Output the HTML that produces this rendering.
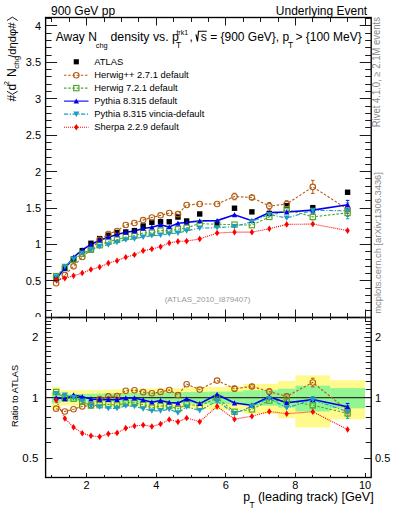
<!DOCTYPE html>
<html><head><meta charset="utf-8"><style>
html,body{margin:0;padding:0;background:#fff;width:393px;height:512px;overflow:hidden;position:relative}
</style></head><body>
<svg width="393" height="512" viewBox="0 0 393 512" style="position:absolute;left:0;top:0"><rect width="393" height="512" fill="#fff"/><rect x="51.80" y="386.93" width="8.70" height="22.83" fill="#fffa8c"/><rect x="60.50" y="390.24" width="8.70" height="15.40" fill="#fffa8c"/><rect x="69.20" y="390.24" width="8.70" height="15.40" fill="#fffa8c"/><rect x="77.90" y="390.08" width="8.70" height="15.76" fill="#fffa8c"/><rect x="86.60" y="390.08" width="8.70" height="15.76" fill="#fffa8c"/><rect x="95.30" y="389.92" width="8.70" height="16.11" fill="#fffa8c"/><rect x="104.00" y="389.68" width="8.70" height="16.64" fill="#fffa8c"/><rect x="112.70" y="389.28" width="8.70" height="17.52" fill="#fffa8c"/><rect x="121.40" y="389.28" width="8.70" height="17.52" fill="#fffa8c"/><rect x="130.10" y="388.88" width="8.70" height="18.40" fill="#fffa8c"/><rect x="138.80" y="388.49" width="8.70" height="19.28" fill="#fffa8c"/><rect x="147.50" y="388.49" width="8.70" height="19.28" fill="#fffa8c"/><rect x="156.20" y="388.10" width="8.70" height="20.17" fill="#fffa8c"/><rect x="164.90" y="388.10" width="8.70" height="20.17" fill="#fffa8c"/><rect x="173.60" y="388.10" width="8.70" height="20.17" fill="#fffa8c"/><rect x="182.30" y="387.71" width="8.70" height="21.05" fill="#fffa8c"/><rect x="191.00" y="387.32" width="17.40" height="21.94" fill="#fffa8c"/><rect x="208.40" y="386.93" width="17.40" height="22.83" fill="#fffa8c"/><rect x="225.80" y="386.55" width="17.40" height="23.71" fill="#fffa8c"/><rect x="243.20" y="383.89" width="17.40" height="29.97" fill="#fffa8c"/><rect x="260.60" y="383.89" width="17.40" height="29.97" fill="#fffa8c"/><rect x="278.00" y="380.96" width="17.40" height="37.22" fill="#fffa8c"/><rect x="295.40" y="375.37" width="34.80" height="52.13" fill="#fffa8c"/><rect x="330.20" y="380.24" width="34.80" height="39.05" fill="#fffa8c"/><rect x="51.80" y="392.10" width="8.70" height="11.36" fill="#91f591"/><rect x="60.50" y="394.18" width="8.70" height="6.99" fill="#91f591"/><rect x="69.20" y="394.18" width="8.70" height="6.99" fill="#91f591"/><rect x="77.90" y="394.01" width="8.70" height="7.34" fill="#91f591"/><rect x="86.60" y="393.76" width="8.70" height="7.86" fill="#91f591"/><rect x="95.30" y="393.59" width="8.70" height="8.21" fill="#91f591"/><rect x="104.00" y="393.34" width="8.70" height="8.74" fill="#91f591"/><rect x="112.70" y="393.17" width="8.70" height="9.09" fill="#91f591"/><rect x="121.40" y="393.01" width="8.70" height="9.44" fill="#91f591"/><rect x="130.10" y="392.84" width="8.70" height="9.79" fill="#91f591"/><rect x="138.80" y="392.68" width="8.70" height="10.14" fill="#91f591"/><rect x="147.50" y="392.51" width="8.70" height="10.49" fill="#91f591"/><rect x="156.20" y="392.35" width="8.70" height="10.84" fill="#91f591"/><rect x="164.90" y="392.35" width="8.70" height="10.84" fill="#91f591"/><rect x="173.60" y="392.18" width="8.70" height="11.19" fill="#91f591"/><rect x="182.30" y="392.02" width="8.70" height="11.54" fill="#91f591"/><rect x="191.00" y="391.86" width="17.40" height="11.89" fill="#91f591"/><rect x="208.40" y="391.69" width="17.40" height="12.24" fill="#91f591"/><rect x="225.80" y="391.53" width="17.40" height="12.59" fill="#91f591"/><rect x="243.20" y="390.24" width="17.40" height="15.40" fill="#91f591"/><rect x="260.60" y="390.24" width="17.40" height="15.40" fill="#91f591"/><rect x="278.00" y="388.65" width="17.40" height="18.93" fill="#91f591"/><rect x="295.40" y="385.63" width="34.80" height="25.85" fill="#91f591"/><rect x="330.20" y="388.10" width="34.80" height="20.17" fill="#91f591"/><line x1="45.6" y1="397.60" x2="371.2" y2="397.60" stroke="#333" stroke-width="1.2"/><g><polyline points="56.15,283.27 64.85,275.04 73.55,266.30 82.25,257.04 90.95,249.54 99.65,239.92 108.35,234.02 117.05,231.03 125.75,224.99 134.45,223.02 143.15,220.10 151.85,217.48 160.55,215.37 169.25,213.04 177.95,214.13 186.65,205.02 199.70,204.00 217.10,204.00 234.50,196.50 251.90,197.52 269.30,206.12 286.70,204.00 312.80,186.88 347.60,209.18" fill="none" stroke="#b35c12" stroke-width="1.1" stroke-dasharray="2.5,1.7"/><polyline points="56.15,276.13 64.85,268.12 73.55,259.74 82.25,253.69 90.95,249.69 99.65,245.17 108.35,241.31 117.05,239.70 125.75,236.94 134.45,235.62 143.15,233.00 151.85,232.78 160.55,230.60 169.25,230.60 177.95,229.29 186.65,227.83 199.70,223.53 217.10,224.33 234.50,224.62 251.90,225.13 269.30,216.90 286.70,209.61 312.80,216.90 347.60,212.82" fill="none" stroke="#4fa82b" stroke-width="1.1" stroke-dasharray="2.5,1.7"/><polyline points="56.15,278.68 64.85,268.48 73.55,257.26 82.25,249.98 90.95,244.44 99.65,240.21 108.35,237.15 117.05,234.46 125.75,232.27 134.45,231.03 143.15,228.41 151.85,227.17 160.55,224.91 169.25,226.95 177.95,223.24 186.65,222.44 199.70,220.91 217.10,220.61 234.50,214.79 251.90,220.69 269.30,212.60 286.70,212.02 312.80,210.12 347.60,204.73" fill="none" stroke="#0000ee" stroke-width="1.6"/><polyline points="56.15,276.79 64.85,266.30 73.55,259.01 82.25,253.18 90.95,249.98 99.65,246.48 108.35,244.80 117.05,242.25 125.75,239.78 134.45,238.83 143.15,237.01 151.85,235.70 160.55,235.19 169.25,233.73 177.95,233.07 186.65,230.74 199.70,228.19 217.10,227.68 234.50,226.52 251.90,221.71 269.30,214.42 286.70,218.06 312.80,210.34 347.60,210.78" fill="none" stroke="#1f9cc4" stroke-width="1.1" stroke-dasharray="4.2,1.6,1.2,1.5"/><polyline points="56.15,279.85 64.85,278.32 73.55,275.77 82.25,273.00 90.95,269.50 99.65,267.03 108.35,263.09 117.05,260.69 125.75,257.19 134.45,254.71 143.15,250.63 151.85,249.03 160.55,246.70 169.25,242.98 177.95,241.38 186.65,241.09 199.70,238.90 217.10,233.00 234.50,232.13 251.90,232.13 269.30,228.78 286.70,224.40 312.80,224.04 347.60,230.60" fill="none" stroke="#ff0000" stroke-width="1.1" stroke-dasharray="1,1"/><path d="M234.50,193.22V193.50M234.50,199.50V199.78M232.70,193.22h3.6M232.70,199.78h3.6" stroke="#b35c12" stroke-width="1" fill="none"/><path d="M251.90,195.33V194.52M251.90,200.52V199.70M250.10,195.33h3.6M250.10,199.70h3.6" stroke="#b35c12" stroke-width="1" fill="none"/><path d="M269.30,202.47V203.12M269.30,209.12V209.76M267.50,202.47h3.6M267.50,209.76h3.6" stroke="#b35c12" stroke-width="1" fill="none"/><path d="M286.70,200.72V201.00M286.70,207.00V207.28M284.90,200.72h3.6M284.90,207.28h3.6" stroke="#b35c12" stroke-width="1" fill="none"/><path d="M312.80,180.32V183.88M312.80,189.88V193.44M311.00,180.32h3.6M311.00,193.44h3.6" stroke="#b35c12" stroke-width="1" fill="none"/><path d="M347.60,204.80V206.18M347.60,212.18V213.55M345.80,204.80h3.6M345.80,213.55h3.6" stroke="#b35c12" stroke-width="1" fill="none"/><path d="M312.80,213.98V213.90M312.80,219.90V219.81M311.00,213.98h3.6M311.00,219.81h3.6" stroke="#4fa82b" stroke-width="1" fill="none"/><path d="M347.60,209.18V209.82M347.60,215.82V216.46M345.80,209.18h3.6M345.80,216.46h3.6" stroke="#4fa82b" stroke-width="1" fill="none"/><path d="M312.80,207.21V207.12M312.80,213.12V213.04M311.00,207.21h3.6M311.00,213.04h3.6" stroke="#0000ee" stroke-width="1" fill="none"/><path d="M347.60,200.36V201.73M347.60,207.73V209.10M345.80,200.36h3.6M345.80,209.10h3.6" stroke="#0000ee" stroke-width="1" fill="none"/><path d="M312.80,206.70V207.34M312.80,213.34V213.98M311.00,206.70h3.6M311.00,213.98h3.6" stroke="#1f9cc4" stroke-width="1" fill="none"/><path d="M347.60,202.76V207.78M347.60,213.78V218.79M345.80,202.76h3.6M345.80,218.79h3.6" stroke="#1f9cc4" stroke-width="1" fill="none"/><rect x="53.45" y="275.98" width="5.40" height="5.40" fill="#000"/><rect x="62.15" y="265.06" width="5.40" height="5.40" fill="#000"/><rect x="70.85" y="256.31" width="5.40" height="5.40" fill="#000"/><rect x="79.55" y="247.93" width="5.40" height="5.40" fill="#000"/><rect x="88.25" y="240.57" width="5.40" height="5.40" fill="#000"/><rect x="96.95" y="235.91" width="5.40" height="5.40" fill="#000"/><rect x="105.65" y="232.49" width="5.40" height="5.40" fill="#000"/><rect x="114.35" y="229.79" width="5.40" height="5.40" fill="#000"/><rect x="123.05" y="229.28" width="5.40" height="5.40" fill="#000"/><rect x="131.75" y="227.90" width="5.40" height="5.40" fill="#000"/><rect x="140.45" y="223.31" width="5.40" height="5.40" fill="#000"/><rect x="149.15" y="219.59" width="5.40" height="5.40" fill="#000"/><rect x="157.85" y="219.08" width="5.40" height="5.40" fill="#000"/><rect x="166.55" y="219.08" width="5.40" height="5.40" fill="#000"/><rect x="175.25" y="214.34" width="5.40" height="5.40" fill="#000"/><rect x="183.95" y="218.28" width="5.40" height="5.40" fill="#000"/><rect x="197.00" y="211.28" width="5.40" height="5.40" fill="#000"/><rect x="214.40" y="221.34" width="5.40" height="5.40" fill="#000"/><rect x="231.80" y="205.53" width="5.40" height="5.40" fill="#000"/><rect x="249.20" y="209.17" width="5.40" height="5.40" fill="#000"/><rect x="266.60" y="210.77" width="5.40" height="5.40" fill="#000"/><rect x="284.00" y="202.91" width="5.40" height="5.40" fill="#000"/><rect x="310.10" y="204.95" width="5.40" height="5.40" fill="#000"/><rect x="344.90" y="189.57" width="5.40" height="5.40" fill="#000"/><circle cx="56.15" cy="283.27" r="2.75" fill="none" stroke="#b35c12" stroke-width="1.15"/><circle cx="64.85" cy="275.04" r="2.75" fill="none" stroke="#b35c12" stroke-width="1.15"/><circle cx="73.55" cy="266.30" r="2.75" fill="none" stroke="#b35c12" stroke-width="1.15"/><circle cx="82.25" cy="257.04" r="2.75" fill="none" stroke="#b35c12" stroke-width="1.15"/><circle cx="90.95" cy="249.54" r="2.75" fill="none" stroke="#b35c12" stroke-width="1.15"/><circle cx="99.65" cy="239.92" r="2.75" fill="none" stroke="#b35c12" stroke-width="1.15"/><circle cx="108.35" cy="234.02" r="2.75" fill="none" stroke="#b35c12" stroke-width="1.15"/><circle cx="117.05" cy="231.03" r="2.75" fill="none" stroke="#b35c12" stroke-width="1.15"/><circle cx="125.75" cy="224.99" r="2.75" fill="none" stroke="#b35c12" stroke-width="1.15"/><circle cx="134.45" cy="223.02" r="2.75" fill="none" stroke="#b35c12" stroke-width="1.15"/><circle cx="143.15" cy="220.10" r="2.75" fill="none" stroke="#b35c12" stroke-width="1.15"/><circle cx="151.85" cy="217.48" r="2.75" fill="none" stroke="#b35c12" stroke-width="1.15"/><circle cx="160.55" cy="215.37" r="2.75" fill="none" stroke="#b35c12" stroke-width="1.15"/><circle cx="169.25" cy="213.04" r="2.75" fill="none" stroke="#b35c12" stroke-width="1.15"/><circle cx="177.95" cy="214.13" r="2.75" fill="none" stroke="#b35c12" stroke-width="1.15"/><circle cx="186.65" cy="205.02" r="2.75" fill="none" stroke="#b35c12" stroke-width="1.15"/><circle cx="199.70" cy="204.00" r="2.75" fill="none" stroke="#b35c12" stroke-width="1.15"/><circle cx="217.10" cy="204.00" r="2.75" fill="none" stroke="#b35c12" stroke-width="1.15"/><circle cx="234.50" cy="196.50" r="2.75" fill="none" stroke="#b35c12" stroke-width="1.15"/><circle cx="251.90" cy="197.52" r="2.75" fill="none" stroke="#b35c12" stroke-width="1.15"/><circle cx="269.30" cy="206.12" r="2.75" fill="none" stroke="#b35c12" stroke-width="1.15"/><circle cx="286.70" cy="204.00" r="2.75" fill="none" stroke="#b35c12" stroke-width="1.15"/><circle cx="312.80" cy="186.88" r="2.75" fill="none" stroke="#b35c12" stroke-width="1.15"/><circle cx="347.60" cy="209.18" r="2.75" fill="none" stroke="#b35c12" stroke-width="1.15"/><rect x="53.50" y="273.48" width="5.30" height="5.30" fill="none" stroke="#4fa82b" stroke-width="1.15"/><rect x="62.20" y="265.47" width="5.30" height="5.30" fill="none" stroke="#4fa82b" stroke-width="1.15"/><rect x="70.90" y="257.09" width="5.30" height="5.30" fill="none" stroke="#4fa82b" stroke-width="1.15"/><rect x="79.60" y="251.04" width="5.30" height="5.30" fill="none" stroke="#4fa82b" stroke-width="1.15"/><rect x="88.30" y="247.04" width="5.30" height="5.30" fill="none" stroke="#4fa82b" stroke-width="1.15"/><rect x="97.00" y="242.52" width="5.30" height="5.30" fill="none" stroke="#4fa82b" stroke-width="1.15"/><rect x="105.70" y="238.66" width="5.30" height="5.30" fill="none" stroke="#4fa82b" stroke-width="1.15"/><rect x="114.40" y="237.05" width="5.30" height="5.30" fill="none" stroke="#4fa82b" stroke-width="1.15"/><rect x="123.10" y="234.29" width="5.30" height="5.30" fill="none" stroke="#4fa82b" stroke-width="1.15"/><rect x="131.80" y="232.97" width="5.30" height="5.30" fill="none" stroke="#4fa82b" stroke-width="1.15"/><rect x="140.50" y="230.35" width="5.30" height="5.30" fill="none" stroke="#4fa82b" stroke-width="1.15"/><rect x="149.20" y="230.13" width="5.30" height="5.30" fill="none" stroke="#4fa82b" stroke-width="1.15"/><rect x="157.90" y="227.95" width="5.30" height="5.30" fill="none" stroke="#4fa82b" stroke-width="1.15"/><rect x="166.60" y="227.95" width="5.30" height="5.30" fill="none" stroke="#4fa82b" stroke-width="1.15"/><rect x="175.30" y="226.64" width="5.30" height="5.30" fill="none" stroke="#4fa82b" stroke-width="1.15"/><rect x="184.00" y="225.18" width="5.30" height="5.30" fill="none" stroke="#4fa82b" stroke-width="1.15"/><rect x="197.05" y="220.88" width="5.30" height="5.30" fill="none" stroke="#4fa82b" stroke-width="1.15"/><rect x="214.45" y="221.68" width="5.30" height="5.30" fill="none" stroke="#4fa82b" stroke-width="1.15"/><rect x="231.85" y="221.97" width="5.30" height="5.30" fill="none" stroke="#4fa82b" stroke-width="1.15"/><rect x="249.25" y="222.48" width="5.30" height="5.30" fill="none" stroke="#4fa82b" stroke-width="1.15"/><rect x="266.65" y="214.25" width="5.30" height="5.30" fill="none" stroke="#4fa82b" stroke-width="1.15"/><rect x="284.05" y="206.96" width="5.30" height="5.30" fill="none" stroke="#4fa82b" stroke-width="1.15"/><rect x="310.15" y="214.25" width="5.30" height="5.30" fill="none" stroke="#4fa82b" stroke-width="1.15"/><rect x="344.95" y="210.17" width="5.30" height="5.30" fill="none" stroke="#4fa82b" stroke-width="1.15"/><polygon points="53.45,281.08 58.85,281.08 56.15,275.98" fill="#0000ee"/><polygon points="62.15,270.88 67.55,270.88 64.85,265.78" fill="#0000ee"/><polygon points="70.85,259.66 76.25,259.66 73.55,254.56" fill="#0000ee"/><polygon points="79.55,252.38 84.95,252.38 82.25,247.28" fill="#0000ee"/><polygon points="88.25,246.84 93.65,246.84 90.95,241.74" fill="#0000ee"/><polygon points="96.95,242.61 102.35,242.61 99.65,237.51" fill="#0000ee"/><polygon points="105.65,239.55 111.05,239.55 108.35,234.45" fill="#0000ee"/><polygon points="114.35,236.86 119.75,236.86 117.05,231.76" fill="#0000ee"/><polygon points="123.05,234.67 128.45,234.67 125.75,229.57" fill="#0000ee"/><polygon points="131.75,233.43 137.15,233.43 134.45,228.33" fill="#0000ee"/><polygon points="140.45,230.81 145.85,230.81 143.15,225.71" fill="#0000ee"/><polygon points="149.15,229.57 154.55,229.57 151.85,224.47" fill="#0000ee"/><polygon points="157.85,227.31 163.25,227.31 160.55,222.21" fill="#0000ee"/><polygon points="166.55,229.35 171.95,229.35 169.25,224.25" fill="#0000ee"/><polygon points="175.25,225.64 180.65,225.64 177.95,220.54" fill="#0000ee"/><polygon points="183.95,224.84 189.35,224.84 186.65,219.74" fill="#0000ee"/><polygon points="197.00,223.31 202.40,223.31 199.70,218.21" fill="#0000ee"/><polygon points="214.40,223.01 219.80,223.01 217.10,217.91" fill="#0000ee"/><polygon points="231.80,217.19 237.20,217.19 234.50,212.09" fill="#0000ee"/><polygon points="249.20,223.09 254.60,223.09 251.90,217.99" fill="#0000ee"/><polygon points="266.60,215.00 272.00,215.00 269.30,209.90" fill="#0000ee"/><polygon points="284.00,214.42 289.40,214.42 286.70,209.32" fill="#0000ee"/><polygon points="310.10,212.52 315.50,212.52 312.80,207.42" fill="#0000ee"/><polygon points="344.90,207.13 350.30,207.13 347.60,202.03" fill="#0000ee"/><polygon points="53.05,274.29 59.25,274.29 56.15,279.69" fill="#1f9cc4"/><polygon points="61.75,263.80 67.95,263.80 64.85,269.20" fill="#1f9cc4"/><polygon points="70.45,256.51 76.65,256.51 73.55,261.91" fill="#1f9cc4"/><polygon points="79.15,250.68 85.35,250.68 82.25,256.08" fill="#1f9cc4"/><polygon points="87.85,247.48 94.05,247.48 90.95,252.88" fill="#1f9cc4"/><polygon points="96.55,243.98 102.75,243.98 99.65,249.38" fill="#1f9cc4"/><polygon points="105.25,242.30 111.45,242.30 108.35,247.70" fill="#1f9cc4"/><polygon points="113.95,239.75 120.15,239.75 117.05,245.15" fill="#1f9cc4"/><polygon points="122.65,237.28 128.85,237.28 125.75,242.68" fill="#1f9cc4"/><polygon points="131.35,236.33 137.55,236.33 134.45,241.73" fill="#1f9cc4"/><polygon points="140.05,234.51 146.25,234.51 143.15,239.91" fill="#1f9cc4"/><polygon points="148.75,233.20 154.95,233.20 151.85,238.60" fill="#1f9cc4"/><polygon points="157.45,232.69 163.65,232.69 160.55,238.09" fill="#1f9cc4"/><polygon points="166.15,231.23 172.35,231.23 169.25,236.63" fill="#1f9cc4"/><polygon points="174.85,230.57 181.05,230.57 177.95,235.97" fill="#1f9cc4"/><polygon points="183.55,228.24 189.75,228.24 186.65,233.64" fill="#1f9cc4"/><polygon points="196.60,225.69 202.80,225.69 199.70,231.09" fill="#1f9cc4"/><polygon points="214.00,225.18 220.20,225.18 217.10,230.58" fill="#1f9cc4"/><polygon points="231.40,224.02 237.60,224.02 234.50,229.42" fill="#1f9cc4"/><polygon points="248.80,219.21 255.00,219.21 251.90,224.61" fill="#1f9cc4"/><polygon points="266.20,211.92 272.40,211.92 269.30,217.32" fill="#1f9cc4"/><polygon points="283.60,215.56 289.80,215.56 286.70,220.96" fill="#1f9cc4"/><polygon points="309.70,207.84 315.90,207.84 312.80,213.24" fill="#1f9cc4"/><polygon points="344.50,208.28 350.70,208.28 347.60,213.68" fill="#1f9cc4"/><polygon points="56.15,276.55 58.35,279.85 56.15,283.15 53.95,279.85" fill="#ff0000"/><polygon points="64.85,275.02 67.05,278.32 64.85,281.62 62.65,278.32" fill="#ff0000"/><polygon points="73.55,272.47 75.75,275.77 73.55,279.07 71.35,275.77" fill="#ff0000"/><polygon points="82.25,269.70 84.45,273.00 82.25,276.30 80.05,273.00" fill="#ff0000"/><polygon points="90.95,266.20 93.15,269.50 90.95,272.80 88.75,269.50" fill="#ff0000"/><polygon points="99.65,263.73 101.85,267.03 99.65,270.33 97.45,267.03" fill="#ff0000"/><polygon points="108.35,259.79 110.55,263.09 108.35,266.39 106.15,263.09" fill="#ff0000"/><polygon points="117.05,257.39 119.25,260.69 117.05,263.99 114.85,260.69" fill="#ff0000"/><polygon points="125.75,253.89 127.95,257.19 125.75,260.49 123.55,257.19" fill="#ff0000"/><polygon points="134.45,251.41 136.65,254.71 134.45,258.01 132.25,254.71" fill="#ff0000"/><polygon points="143.15,247.33 145.35,250.63 143.15,253.93 140.95,250.63" fill="#ff0000"/><polygon points="151.85,245.73 154.05,249.03 151.85,252.33 149.65,249.03" fill="#ff0000"/><polygon points="160.55,243.40 162.75,246.70 160.55,250.00 158.35,246.70" fill="#ff0000"/><polygon points="169.25,239.68 171.45,242.98 169.25,246.28 167.05,242.98" fill="#ff0000"/><polygon points="177.95,238.08 180.15,241.38 177.95,244.68 175.75,241.38" fill="#ff0000"/><polygon points="186.65,237.79 188.85,241.09 186.65,244.39 184.45,241.09" fill="#ff0000"/><polygon points="199.70,235.60 201.90,238.90 199.70,242.20 197.50,238.90" fill="#ff0000"/><polygon points="217.10,229.70 219.30,233.00 217.10,236.30 214.90,233.00" fill="#ff0000"/><polygon points="234.50,228.83 236.70,232.13 234.50,235.43 232.30,232.13" fill="#ff0000"/><polygon points="251.90,228.83 254.10,232.13 251.90,235.43 249.70,232.13" fill="#ff0000"/><polygon points="269.30,225.48 271.50,228.78 269.30,232.08 267.10,228.78" fill="#ff0000"/><polygon points="286.70,221.10 288.90,224.40 286.70,227.70 284.50,224.40" fill="#ff0000"/><polygon points="312.80,220.74 315.00,224.04 312.80,227.34 310.60,224.04" fill="#ff0000"/><polygon points="347.60,227.30 349.80,230.60 347.60,233.90 345.40,230.60" fill="#ff0000"/></g><polyline points="56.15,408.65 64.85,411.49 73.55,409.26 82.25,406.43 90.95,405.32 99.65,399.07 108.35,396.37 117.05,396.11 125.75,390.72 134.45,390.29 143.15,392.13 151.85,393.29 160.55,391.93 169.25,389.95 177.95,395.10 186.65,384.22 199.70,389.55 217.10,380.61 234.50,388.68 251.90,386.46 269.30,391.62 286.70,396.36 312.80,382.46 347.60,410.28" fill="none" stroke="#b35c12" stroke-width="1.1" stroke-dasharray="2.5,1.7"/><polyline points="56.15,392.02 64.85,398.24 73.55,398.70 82.25,401.70 90.95,405.51 99.65,405.20 108.35,404.36 117.05,405.36 125.75,402.82 134.45,402.81 143.15,404.56 151.85,407.81 160.55,406.05 169.25,406.05 177.95,408.97 186.65,404.04 199.70,406.06 217.10,397.87 234.50,411.82 251.90,409.33 269.30,400.53 286.70,400.79 312.80,405.30 347.60,413.27" fill="none" stroke="#4fa82b" stroke-width="1.1" stroke-dasharray="2.5,1.7"/><polyline points="56.15,397.60 64.85,398.89 73.55,395.02 82.25,396.75 90.95,398.99 99.65,399.40 108.35,399.72 117.05,399.65 125.75,397.90 134.45,398.04 143.15,399.93 151.85,402.20 160.55,400.51 169.25,402.46 177.95,403.17 186.65,398.93 199.70,403.65 217.10,394.45 234.50,403.01 251.90,405.22 269.30,396.87 286.70,402.76 312.80,399.59 347.60,406.76" fill="none" stroke="#0000ee" stroke-width="1.6"/><polyline points="56.15,393.42 64.85,395.07 73.55,397.60 82.25,401.00 90.95,405.89 99.65,406.80 108.35,408.47 117.05,408.28 125.75,405.96 134.45,406.31 143.15,408.81 151.85,410.88 160.55,410.80 169.25,409.27 177.95,412.81 186.65,406.93 199.70,410.51 217.10,401.08 234.50,413.62 251.90,406.15 269.30,398.40 286.70,407.92 312.80,399.77 347.60,411.58" fill="none" stroke="#1f9cc4" stroke-width="1.1" stroke-dasharray="4.2,1.6,1.2,1.5"/><polyline points="56.15,400.28 64.85,418.54 73.55,427.19 82.25,433.28 90.95,435.79 99.65,436.71 108.35,433.85 117.05,432.88 125.75,428.17 134.45,426.05 143.15,425.04 151.85,426.45 160.55,423.99 169.25,419.51 177.95,421.87 186.65,418.04 199.70,421.69 217.10,406.42 234.50,419.19 251.90,416.22 269.30,411.52 286.70,413.69 312.80,411.74 347.60,429.55" fill="none" stroke="#ff0000" stroke-width="1.1" stroke-dasharray="1,1"/><path d="M234.50,386.35V385.68M234.50,391.68V391.09M232.70,386.35h3.6M232.70,391.09h3.6" stroke="#b35c12" stroke-width="1" fill="none"/><path d="M251.90,384.88V383.46M251.90,389.46V388.07M250.10,384.88h3.6M250.10,388.07h3.6" stroke="#b35c12" stroke-width="1" fill="none"/><path d="M269.30,388.81V388.62M269.30,394.62V394.53M267.50,388.81h3.6M267.50,394.53h3.6" stroke="#b35c12" stroke-width="1" fill="none"/><path d="M286.70,393.87V393.36M286.70,399.36V398.92M284.90,393.87h3.6M284.90,398.92h3.6" stroke="#b35c12" stroke-width="1" fill="none"/><path d="M312.80,378.18V379.46M312.80,385.46V386.96M311.00,378.18h3.6M311.00,386.96h3.6" stroke="#b35c12" stroke-width="1" fill="none"/><path d="M347.60,406.82V407.28M347.60,413.28V413.88M345.80,406.82h3.6M345.80,413.88h3.6" stroke="#b35c12" stroke-width="1" fill="none"/><path d="M312.80,402.80V402.30M312.80,408.30V407.87M311.00,402.80h3.6M311.00,407.87h3.6" stroke="#4fa82b" stroke-width="1" fill="none"/><path d="M347.60,410.28V410.27M347.60,416.27V416.37M345.80,410.28h3.6M345.80,416.37h3.6" stroke="#4fa82b" stroke-width="1" fill="none"/><path d="M312.80,397.25V396.59M312.80,402.59V402.00M311.00,397.25h3.6M311.00,402.00h3.6" stroke="#0000ee" stroke-width="1" fill="none"/><path d="M347.60,403.44V403.76M347.60,409.76V410.22M345.80,403.44h3.6M345.80,410.22h3.6" stroke="#0000ee" stroke-width="1" fill="none"/><path d="M312.80,396.85V396.77M312.80,402.77V402.80M311.00,396.85h3.6M311.00,402.80h3.6" stroke="#1f9cc4" stroke-width="1" fill="none"/><path d="M347.60,405.25V408.58M347.60,414.58V418.41M345.80,405.25h3.6M345.80,418.41h3.6" stroke="#1f9cc4" stroke-width="1" fill="none"/><circle cx="56.15" cy="408.65" r="2.75" fill="none" stroke="#b35c12" stroke-width="1.15"/><circle cx="64.85" cy="411.49" r="2.75" fill="none" stroke="#b35c12" stroke-width="1.15"/><circle cx="73.55" cy="409.26" r="2.75" fill="none" stroke="#b35c12" stroke-width="1.15"/><circle cx="82.25" cy="406.43" r="2.75" fill="none" stroke="#b35c12" stroke-width="1.15"/><circle cx="90.95" cy="405.32" r="2.75" fill="none" stroke="#b35c12" stroke-width="1.15"/><circle cx="99.65" cy="399.07" r="2.75" fill="none" stroke="#b35c12" stroke-width="1.15"/><circle cx="108.35" cy="396.37" r="2.75" fill="none" stroke="#b35c12" stroke-width="1.15"/><circle cx="117.05" cy="396.11" r="2.75" fill="none" stroke="#b35c12" stroke-width="1.15"/><circle cx="125.75" cy="390.72" r="2.75" fill="none" stroke="#b35c12" stroke-width="1.15"/><circle cx="134.45" cy="390.29" r="2.75" fill="none" stroke="#b35c12" stroke-width="1.15"/><circle cx="143.15" cy="392.13" r="2.75" fill="none" stroke="#b35c12" stroke-width="1.15"/><circle cx="151.85" cy="393.29" r="2.75" fill="none" stroke="#b35c12" stroke-width="1.15"/><circle cx="160.55" cy="391.93" r="2.75" fill="none" stroke="#b35c12" stroke-width="1.15"/><circle cx="169.25" cy="389.95" r="2.75" fill="none" stroke="#b35c12" stroke-width="1.15"/><circle cx="177.95" cy="395.10" r="2.75" fill="none" stroke="#b35c12" stroke-width="1.15"/><circle cx="186.65" cy="384.22" r="2.75" fill="none" stroke="#b35c12" stroke-width="1.15"/><circle cx="199.70" cy="389.55" r="2.75" fill="none" stroke="#b35c12" stroke-width="1.15"/><circle cx="217.10" cy="380.61" r="2.75" fill="none" stroke="#b35c12" stroke-width="1.15"/><circle cx="234.50" cy="388.68" r="2.75" fill="none" stroke="#b35c12" stroke-width="1.15"/><circle cx="251.90" cy="386.46" r="2.75" fill="none" stroke="#b35c12" stroke-width="1.15"/><circle cx="269.30" cy="391.62" r="2.75" fill="none" stroke="#b35c12" stroke-width="1.15"/><circle cx="286.70" cy="396.36" r="2.75" fill="none" stroke="#b35c12" stroke-width="1.15"/><circle cx="312.80" cy="382.46" r="2.75" fill="none" stroke="#b35c12" stroke-width="1.15"/><circle cx="347.60" cy="410.28" r="2.75" fill="none" stroke="#b35c12" stroke-width="1.15"/><rect x="53.50" y="389.37" width="5.30" height="5.30" fill="none" stroke="#4fa82b" stroke-width="1.15"/><rect x="62.20" y="395.59" width="5.30" height="5.30" fill="none" stroke="#4fa82b" stroke-width="1.15"/><rect x="70.90" y="396.05" width="5.30" height="5.30" fill="none" stroke="#4fa82b" stroke-width="1.15"/><rect x="79.60" y="399.05" width="5.30" height="5.30" fill="none" stroke="#4fa82b" stroke-width="1.15"/><rect x="88.30" y="402.86" width="5.30" height="5.30" fill="none" stroke="#4fa82b" stroke-width="1.15"/><rect x="97.00" y="402.55" width="5.30" height="5.30" fill="none" stroke="#4fa82b" stroke-width="1.15"/><rect x="105.70" y="401.71" width="5.30" height="5.30" fill="none" stroke="#4fa82b" stroke-width="1.15"/><rect x="114.40" y="402.71" width="5.30" height="5.30" fill="none" stroke="#4fa82b" stroke-width="1.15"/><rect x="123.10" y="400.17" width="5.30" height="5.30" fill="none" stroke="#4fa82b" stroke-width="1.15"/><rect x="131.80" y="400.16" width="5.30" height="5.30" fill="none" stroke="#4fa82b" stroke-width="1.15"/><rect x="140.50" y="401.91" width="5.30" height="5.30" fill="none" stroke="#4fa82b" stroke-width="1.15"/><rect x="149.20" y="405.16" width="5.30" height="5.30" fill="none" stroke="#4fa82b" stroke-width="1.15"/><rect x="157.90" y="403.40" width="5.30" height="5.30" fill="none" stroke="#4fa82b" stroke-width="1.15"/><rect x="166.60" y="403.40" width="5.30" height="5.30" fill="none" stroke="#4fa82b" stroke-width="1.15"/><rect x="175.30" y="406.32" width="5.30" height="5.30" fill="none" stroke="#4fa82b" stroke-width="1.15"/><rect x="184.00" y="401.39" width="5.30" height="5.30" fill="none" stroke="#4fa82b" stroke-width="1.15"/><rect x="197.05" y="403.41" width="5.30" height="5.30" fill="none" stroke="#4fa82b" stroke-width="1.15"/><rect x="214.45" y="395.22" width="5.30" height="5.30" fill="none" stroke="#4fa82b" stroke-width="1.15"/><rect x="231.85" y="409.17" width="5.30" height="5.30" fill="none" stroke="#4fa82b" stroke-width="1.15"/><rect x="249.25" y="406.68" width="5.30" height="5.30" fill="none" stroke="#4fa82b" stroke-width="1.15"/><rect x="266.65" y="397.88" width="5.30" height="5.30" fill="none" stroke="#4fa82b" stroke-width="1.15"/><rect x="284.05" y="398.14" width="5.30" height="5.30" fill="none" stroke="#4fa82b" stroke-width="1.15"/><rect x="310.15" y="402.65" width="5.30" height="5.30" fill="none" stroke="#4fa82b" stroke-width="1.15"/><rect x="344.95" y="410.62" width="5.30" height="5.30" fill="none" stroke="#4fa82b" stroke-width="1.15"/><polygon points="53.45,400.00 58.85,400.00 56.15,394.90" fill="#0000ee"/><polygon points="62.15,401.29 67.55,401.29 64.85,396.19" fill="#0000ee"/><polygon points="70.85,397.42 76.25,397.42 73.55,392.32" fill="#0000ee"/><polygon points="79.55,399.15 84.95,399.15 82.25,394.05" fill="#0000ee"/><polygon points="88.25,401.39 93.65,401.39 90.95,396.29" fill="#0000ee"/><polygon points="96.95,401.80 102.35,401.80 99.65,396.70" fill="#0000ee"/><polygon points="105.65,402.12 111.05,402.12 108.35,397.02" fill="#0000ee"/><polygon points="114.35,402.05 119.75,402.05 117.05,396.95" fill="#0000ee"/><polygon points="123.05,400.30 128.45,400.30 125.75,395.20" fill="#0000ee"/><polygon points="131.75,400.44 137.15,400.44 134.45,395.34" fill="#0000ee"/><polygon points="140.45,402.33 145.85,402.33 143.15,397.23" fill="#0000ee"/><polygon points="149.15,404.60 154.55,404.60 151.85,399.50" fill="#0000ee"/><polygon points="157.85,402.91 163.25,402.91 160.55,397.81" fill="#0000ee"/><polygon points="166.55,404.86 171.95,404.86 169.25,399.76" fill="#0000ee"/><polygon points="175.25,405.57 180.65,405.57 177.95,400.47" fill="#0000ee"/><polygon points="183.95,401.33 189.35,401.33 186.65,396.23" fill="#0000ee"/><polygon points="197.00,406.05 202.40,406.05 199.70,400.95" fill="#0000ee"/><polygon points="214.40,396.85 219.80,396.85 217.10,391.75" fill="#0000ee"/><polygon points="231.80,405.41 237.20,405.41 234.50,400.31" fill="#0000ee"/><polygon points="249.20,407.62 254.60,407.62 251.90,402.52" fill="#0000ee"/><polygon points="266.60,399.27 272.00,399.27 269.30,394.17" fill="#0000ee"/><polygon points="284.00,405.16 289.40,405.16 286.70,400.06" fill="#0000ee"/><polygon points="310.10,401.99 315.50,401.99 312.80,396.89" fill="#0000ee"/><polygon points="344.90,409.16 350.30,409.16 347.60,404.06" fill="#0000ee"/><polygon points="53.05,390.92 59.25,390.92 56.15,396.32" fill="#1f9cc4"/><polygon points="61.75,392.57 67.95,392.57 64.85,397.97" fill="#1f9cc4"/><polygon points="70.45,395.10 76.65,395.10 73.55,400.50" fill="#1f9cc4"/><polygon points="79.15,398.50 85.35,398.50 82.25,403.90" fill="#1f9cc4"/><polygon points="87.85,403.39 94.05,403.39 90.95,408.79" fill="#1f9cc4"/><polygon points="96.55,404.30 102.75,404.30 99.65,409.70" fill="#1f9cc4"/><polygon points="105.25,405.97 111.45,405.97 108.35,411.37" fill="#1f9cc4"/><polygon points="113.95,405.78 120.15,405.78 117.05,411.18" fill="#1f9cc4"/><polygon points="122.65,403.46 128.85,403.46 125.75,408.86" fill="#1f9cc4"/><polygon points="131.35,403.81 137.55,403.81 134.45,409.21" fill="#1f9cc4"/><polygon points="140.05,406.31 146.25,406.31 143.15,411.71" fill="#1f9cc4"/><polygon points="148.75,408.38 154.95,408.38 151.85,413.78" fill="#1f9cc4"/><polygon points="157.45,408.30 163.65,408.30 160.55,413.70" fill="#1f9cc4"/><polygon points="166.15,406.77 172.35,406.77 169.25,412.17" fill="#1f9cc4"/><polygon points="174.85,410.31 181.05,410.31 177.95,415.71" fill="#1f9cc4"/><polygon points="183.55,404.43 189.75,404.43 186.65,409.83" fill="#1f9cc4"/><polygon points="196.60,408.01 202.80,408.01 199.70,413.41" fill="#1f9cc4"/><polygon points="214.00,398.58 220.20,398.58 217.10,403.98" fill="#1f9cc4"/><polygon points="231.40,411.12 237.60,411.12 234.50,416.52" fill="#1f9cc4"/><polygon points="248.80,403.65 255.00,403.65 251.90,409.05" fill="#1f9cc4"/><polygon points="266.20,395.90 272.40,395.90 269.30,401.30" fill="#1f9cc4"/><polygon points="283.60,405.42 289.80,405.42 286.70,410.82" fill="#1f9cc4"/><polygon points="309.70,397.27 315.90,397.27 312.80,402.67" fill="#1f9cc4"/><polygon points="344.50,409.08 350.70,409.08 347.60,414.48" fill="#1f9cc4"/><polygon points="56.15,396.98 58.35,400.28 56.15,403.58 53.95,400.28" fill="#ff0000"/><polygon points="64.85,415.24 67.05,418.54 64.85,421.84 62.65,418.54" fill="#ff0000"/><polygon points="73.55,423.89 75.75,427.19 73.55,430.49 71.35,427.19" fill="#ff0000"/><polygon points="82.25,429.98 84.45,433.28 82.25,436.58 80.05,433.28" fill="#ff0000"/><polygon points="90.95,432.49 93.15,435.79 90.95,439.09 88.75,435.79" fill="#ff0000"/><polygon points="99.65,433.41 101.85,436.71 99.65,440.01 97.45,436.71" fill="#ff0000"/><polygon points="108.35,430.55 110.55,433.85 108.35,437.15 106.15,433.85" fill="#ff0000"/><polygon points="117.05,429.58 119.25,432.88 117.05,436.18 114.85,432.88" fill="#ff0000"/><polygon points="125.75,424.87 127.95,428.17 125.75,431.47 123.55,428.17" fill="#ff0000"/><polygon points="134.45,422.75 136.65,426.05 134.45,429.35 132.25,426.05" fill="#ff0000"/><polygon points="143.15,421.74 145.35,425.04 143.15,428.34 140.95,425.04" fill="#ff0000"/><polygon points="151.85,423.15 154.05,426.45 151.85,429.75 149.65,426.45" fill="#ff0000"/><polygon points="160.55,420.69 162.75,423.99 160.55,427.29 158.35,423.99" fill="#ff0000"/><polygon points="169.25,416.21 171.45,419.51 169.25,422.81 167.05,419.51" fill="#ff0000"/><polygon points="177.95,418.57 180.15,421.87 177.95,425.17 175.75,421.87" fill="#ff0000"/><polygon points="186.65,414.74 188.85,418.04 186.65,421.34 184.45,418.04" fill="#ff0000"/><polygon points="199.70,418.39 201.90,421.69 199.70,424.99 197.50,421.69" fill="#ff0000"/><polygon points="217.10,403.12 219.30,406.42 217.10,409.72 214.90,406.42" fill="#ff0000"/><polygon points="234.50,415.89 236.70,419.19 234.50,422.49 232.30,419.19" fill="#ff0000"/><polygon points="251.90,412.92 254.10,416.22 251.90,419.52 249.70,416.22" fill="#ff0000"/><polygon points="269.30,408.22 271.50,411.52 269.30,414.82 267.10,411.52" fill="#ff0000"/><polygon points="286.70,410.39 288.90,413.69 286.70,416.99 284.50,413.69" fill="#ff0000"/><polygon points="312.80,408.44 315.00,411.74 312.80,415.04 310.60,411.74" fill="#ff0000"/><polygon points="347.60,426.25 349.80,429.55 347.60,432.85 345.40,429.55" fill="#ff0000"/><rect x="45.6" y="17.5" width="325.59999999999997" height="300.0" fill="none" stroke="#000" stroke-width="1.35"/><rect x="45.6" y="317.5" width="325.59999999999997" height="160.0" fill="none" stroke="#000" stroke-width="1.35"/><path d="M45.6,317.50h11.5M371.2,317.50h-11.5M45.6,310.50h6M371.2,310.50h-6M45.6,302.50h6M371.2,302.50h-6M45.6,295.50h6M371.2,295.50h-6M45.6,288.50h6M371.2,288.50h-6M45.6,280.50h11.5M371.2,280.50h-11.5M45.6,273.50h6M371.2,273.50h-6M45.6,266.50h6M371.2,266.50h-6M45.6,259.50h6M371.2,259.50h-6M45.6,251.50h6M371.2,251.50h-6M45.6,244.50h11.5M371.2,244.50h-11.5M45.6,237.50h6M371.2,237.50h-6M45.6,229.50h6M371.2,229.50h-6M45.6,222.50h6M371.2,222.50h-6M45.6,215.50h6M371.2,215.50h-6M45.6,208.50h11.5M371.2,208.50h-11.5M45.6,200.50h6M371.2,200.50h-6M45.6,193.50h6M371.2,193.50h-6M45.6,186.50h6M371.2,186.50h-6M45.6,178.50h6M371.2,178.50h-6M45.6,171.50h11.5M371.2,171.50h-11.5M45.6,164.50h6M371.2,164.50h-6M45.6,157.50h6M371.2,157.50h-6M45.6,149.50h6M371.2,149.50h-6M45.6,142.50h6M371.2,142.50h-6M45.6,135.50h11.5M371.2,135.50h-11.5M45.6,127.50h6M371.2,127.50h-6M45.6,120.50h6M371.2,120.50h-6M45.6,113.50h6M371.2,113.50h-6M45.6,106.50h6M371.2,106.50h-6M45.6,98.50h11.5M371.2,98.50h-11.5M45.6,91.50h6M371.2,91.50h-6M45.6,84.50h6M371.2,84.50h-6M45.6,76.50h6M371.2,76.50h-6M45.6,69.50h6M371.2,69.50h-6M45.6,62.50h11.5M371.2,62.50h-11.5M45.6,55.50h6M371.2,55.50h-6M45.6,47.50h6M371.2,47.50h-6M45.6,40.50h6M371.2,40.50h-6M45.6,33.50h6M371.2,33.50h-6M45.6,25.50h11.5M371.2,25.50h-11.5M45.6,18.50h6M371.2,18.50h-6M51.50,317.5v-4.5M51.50,17.5v4.5M69.50,317.5v-4.5M69.50,17.5v4.5M86.50,317.5v-8M86.50,17.5v8M104.50,317.5v-4.5M104.50,17.5v4.5M121.50,317.5v-4.5M121.50,17.5v4.5M138.50,317.5v-4.5M138.50,17.5v4.5M156.50,317.5v-8M156.50,17.5v8M173.50,317.5v-4.5M173.50,17.5v4.5M191.50,317.5v-4.5M191.50,17.5v4.5M208.50,317.5v-4.5M208.50,17.5v4.5M225.50,317.5v-8M225.50,17.5v8M243.50,317.5v-4.5M243.50,17.5v4.5M260.50,317.5v-4.5M260.50,17.5v4.5M278.50,317.5v-4.5M278.50,17.5v4.5M295.50,317.5v-8M295.50,17.5v8M312.50,317.5v-4.5M312.50,17.5v4.5M330.50,317.5v-4.5M330.50,17.5v4.5M347.50,317.5v-4.5M347.50,17.5v4.5M365.50,317.5v-8M365.50,17.5v8M45.6,458.50h7M371.2,458.50h-7M45.6,442.50h5.5M371.2,442.50h-5.5M45.6,428.50h5.5M371.2,428.50h-5.5M45.6,417.50h5.5M371.2,417.50h-5.5M45.6,406.50h5.5M371.2,406.50h-5.5M45.6,397.50h7M371.2,397.50h-7M45.6,389.50h5.5M371.2,389.50h-5.5M45.6,381.50h5.5M371.2,381.50h-5.5M45.6,374.50h5.5M371.2,374.50h-5.5M45.6,368.50h5.5M371.2,368.50h-5.5M45.6,362.50h5.5M371.2,362.50h-5.5M45.6,356.50h5.5M371.2,356.50h-5.5M45.6,351.50h5.5M371.2,351.50h-5.5M45.6,346.50h5.5M371.2,346.50h-5.5M45.6,341.50h5.5M371.2,341.50h-5.5M45.6,337.50h7M371.2,337.50h-7M45.6,332.50h5.5M371.2,332.50h-5.5M45.6,328.50h5.5M371.2,328.50h-5.5M45.6,324.50h5.5M371.2,324.50h-5.5M45.6,321.50h5.5M371.2,321.50h-5.5M45.6,317.50h5.5M371.2,317.50h-5.5M51.50,477.5v-2.5M51.50,317.5v2.5M69.50,477.5v-2.5M69.50,317.5v2.5M86.50,477.5v-4.5M86.50,317.5v4.5M104.50,477.5v-2.5M104.50,317.5v2.5M121.50,477.5v-2.5M121.50,317.5v2.5M138.50,477.5v-2.5M138.50,317.5v2.5M156.50,477.5v-4.5M156.50,317.5v4.5M173.50,477.5v-2.5M173.50,317.5v2.5M191.50,477.5v-2.5M191.50,317.5v2.5M208.50,477.5v-2.5M208.50,317.5v2.5M225.50,477.5v-4.5M225.50,317.5v4.5M243.50,477.5v-2.5M243.50,317.5v2.5M260.50,477.5v-2.5M260.50,317.5v2.5M278.50,477.5v-2.5M278.50,317.5v2.5M295.50,477.5v-4.5M295.50,317.5v4.5M312.50,477.5v-2.5M312.50,317.5v2.5M330.50,477.5v-2.5M330.50,317.5v2.5M347.50,477.5v-2.5M347.50,317.5v2.5M365.50,477.5v-4.5M365.50,317.5v4.5" stroke="#1a1a1a" stroke-width="1.0" fill="none"/><text x="41.00" y="284.87" font-size="11" text-anchor="end" fill="#000" font-family="Liberation Sans, sans-serif" >0.5</text><text x="41.00" y="248.44" font-size="11" text-anchor="end" fill="#000" font-family="Liberation Sans, sans-serif" >1</text><text x="41.00" y="212.01" font-size="11" text-anchor="end" fill="#000" font-family="Liberation Sans, sans-serif" >1.5</text><text x="41.00" y="175.58" font-size="11" text-anchor="end" fill="#000" font-family="Liberation Sans, sans-serif" >2</text><text x="41.00" y="139.15" font-size="11" text-anchor="end" fill="#000" font-family="Liberation Sans, sans-serif" >2.5</text><text x="41.00" y="102.72" font-size="11" text-anchor="end" fill="#000" font-family="Liberation Sans, sans-serif" >3</text><text x="41.00" y="66.29" font-size="11" text-anchor="end" fill="#000" font-family="Liberation Sans, sans-serif" >3.5</text><text x="41.00" y="29.86" font-size="11" text-anchor="end" fill="#000" font-family="Liberation Sans, sans-serif" >4</text><text x="38.30" y="462.31" font-size="11.5" text-anchor="end" fill="#000" font-family="Liberation Sans, sans-serif" >0.5</text><text x="375.00" y="462.11" font-size="11" text-anchor="start" fill="#000" font-family="Liberation Sans, sans-serif" >0.5</text><text x="38.30" y="401.80" font-size="11.5" text-anchor="end" fill="#000" font-family="Liberation Sans, sans-serif" >1</text><text x="375.00" y="401.60" font-size="11" text-anchor="start" fill="#000" font-family="Liberation Sans, sans-serif" >1</text><text x="38.30" y="341.29" font-size="11.5" text-anchor="end" fill="#000" font-family="Liberation Sans, sans-serif" >2</text><text x="375.00" y="341.09" font-size="11" text-anchor="start" fill="#000" font-family="Liberation Sans, sans-serif" >2</text><text x="86.60" y="489.30" font-size="11" text-anchor="middle" fill="#000" font-family="Liberation Sans, sans-serif" >2</text><text x="156.20" y="489.30" font-size="11" text-anchor="middle" fill="#000" font-family="Liberation Sans, sans-serif" >4</text><text x="225.80" y="489.30" font-size="11" text-anchor="middle" fill="#000" font-family="Liberation Sans, sans-serif" >6</text><text x="295.40" y="489.30" font-size="11" text-anchor="middle" fill="#000" font-family="Liberation Sans, sans-serif" >8</text><text x="365.00" y="489.30" font-size="11" text-anchor="middle" fill="#000" font-family="Liberation Sans, sans-serif" >10</text><text x="51.00" y="14.50" font-size="12" text-anchor="start" fill="#000" font-family="Liberation Sans, sans-serif" >900 GeV pp</text><text x="367.20" y="14.50" font-size="12" text-anchor="end" fill="#000" font-family="Liberation Sans, sans-serif" >Underlying Event</text><rect x="73.73" y="59.23" width="5.13" height="5.13" fill="#000"/><text x="94.30" y="65.00" font-size="9.4" text-anchor="start" fill="#000" font-family="Liberation Sans, sans-serif" >ATLAS</text><line x1="64.0" y1="75.2" x2="88.5" y2="75.2" stroke="#b35c12" stroke-width="1.1" stroke-dasharray="2.5,1.7"/><circle cx="76.30" cy="75.20" r="2.75" fill="none" stroke="#b35c12" stroke-width="1.15"/><text x="94.30" y="78.40" font-size="9.4" text-anchor="start" fill="#000" font-family="Liberation Sans, sans-serif" >Herwig++ 2.7.1 default</text><line x1="64.0" y1="88.1" x2="88.5" y2="88.1" stroke="#4fa82b" stroke-width="1.1" stroke-dasharray="2.5,1.7"/><rect x="73.65" y="85.45" width="5.30" height="5.30" fill="none" stroke="#4fa82b" stroke-width="1.15"/><text x="94.30" y="91.30" font-size="9.4" text-anchor="start" fill="#000" font-family="Liberation Sans, sans-serif" >Herwig 7.2.1 default</text><line x1="64.0" y1="101.1" x2="88.5" y2="101.1" stroke="#0000ee" stroke-width="1.1"/><polygon points="73.60,103.50 79.00,103.50 76.30,98.40" fill="#0000ee"/><text x="94.30" y="104.30" font-size="9.4" text-anchor="start" fill="#000" font-family="Liberation Sans, sans-serif" >Pythia 8.315 default</text><line x1="64.0" y1="114.1" x2="88.5" y2="114.1" stroke="#1f9cc4" stroke-width="1.1" stroke-dasharray="4.2,1.6,1.2,1.5"/><polygon points="73.20,111.60 79.40,111.60 76.30,117.00" fill="#1f9cc4"/><text x="94.30" y="117.30" font-size="9.4" text-anchor="start" fill="#000" font-family="Liberation Sans, sans-serif" >Pythia 8.315 vincia-default</text><line x1="64.0" y1="127.2" x2="88.5" y2="127.2" stroke="#ff0000" stroke-width="1.1" stroke-dasharray="1,1"/><polygon points="76.30,123.90 78.50,127.20 76.30,130.50 74.10,127.20" fill="#ff0000"/><text x="94.30" y="130.40" font-size="9.4" text-anchor="start" fill="#000" font-family="Liberation Sans, sans-serif" >Sherpa 2.2.9 default</text><text x="55.70" y="41.30" font-size="12" text-anchor="start" fill="#000" font-family="Liberation Sans, sans-serif" >Away N</text><text x="95.80" y="47.60" font-size="7.4" text-anchor="start" fill="#000" font-family="Liberation Sans, sans-serif" >chg</text><text x="110.50" y="41.30" font-size="12.3" text-anchor="start" fill="#000" font-family="Liberation Sans, sans-serif" >density vs. p</text><text x="176.00" y="47.90" font-size="8.5" text-anchor="start" fill="#000" font-family="Liberation Sans, sans-serif" >T</text><text x="176.40" y="35.20" font-size="7" text-anchor="start" fill="#000" font-family="Liberation Sans, sans-serif" >trk1</text><text x="189.60" y="41.30" font-size="12" text-anchor="start" fill="#000" font-family="Liberation Sans, sans-serif" >,</text><path d="M195.9,34.4 L197.5,41.4 L198.5,31.3 L206.8,31.3" fill="none" stroke="#000" stroke-width="1.1"/><text x="200.80" y="41.30" font-size="12" text-anchor="start" fill="#000" font-family="Liberation Sans, sans-serif" >s = {900 GeV}, p</text><text x="288.00" y="47.60" font-size="8.5" text-anchor="start" fill="#000" font-family="Liberation Sans, sans-serif" >T</text><text x="295.40" y="41.30" font-size="12" text-anchor="start" fill="#000" font-family="Liberation Sans, sans-serif" >&gt; {100 MeV}</text><text transform="translate(16.30,101.60) rotate(-90) scale(1.0,1)" font-size="12" fill="#000" font-family="Liberation Sans, sans-serif">#</text><path d="M7,91.3 L12.35,94.35 L17.6,91.3 M7,20.5 L12.35,17.1 L17.6,20.5" fill="none" stroke="#000" stroke-width="0.9"/><text transform="translate(16.30,90.60) rotate(-90) scale(1.0,1)" font-size="12" fill="#000" font-family="Liberation Sans, sans-serif">d</text><text transform="translate(9.00,84.90) rotate(-90) scale(1.0,1)" font-size="7" fill="#000" font-family="Liberation Sans, sans-serif">2</text><text transform="translate(15.80,76.90) rotate(-90) scale(1.0,1)" font-size="12" fill="#000" font-family="Liberation Sans, sans-serif">N</text><text transform="translate(18.60,68.80) rotate(-90) scale(1.0,1)" font-size="8" fill="#000" font-family="Liberation Sans, sans-serif">chg</text><text transform="translate(15.70,57.80) rotate(-90) scale(1.0,1)" font-size="11.2" fill="#000" font-family="Liberation Sans, sans-serif">/d&#x3B7;d&#x3C6;#</text><text transform="translate(18.4,427) rotate(-90)" font-size="9.2" font-family="Liberation Sans, sans-serif">Ratio to ATLAS</text><text x="243.20" y="501.30" font-size="12.3" text-anchor="start" fill="#000" font-family="Liberation Sans, sans-serif" >p</text><text x="249.60" y="507.80" font-size="8.4" text-anchor="start" fill="#000" font-family="Liberation Sans, sans-serif" >T</text><text x="257.90" y="501.30" font-size="12.65" text-anchor="start" fill="#000" font-family="Liberation Sans, sans-serif" >(leading track) [GeV]</text><text x="207.50" y="301.60" font-size="8" text-anchor="middle" fill="#999" font-family="Liberation Sans, sans-serif" >(ATLAS_2010_I879407)</text><text transform="translate(380.20,127.30) rotate(-90) scale(0.95,1)" font-size="10" fill="#888" font-family="Liberation Sans, sans-serif">Rivet 4.1.0, &#x2265; 2.1M events</text><text transform="translate(380.60,313.80) rotate(-90) scale(1.0,1)" font-size="9.4" fill="#888" font-family="Liberation Sans, sans-serif">mcplots.cern.ch [arXiv:1306.3436]</text><clipPath id="c0"><rect x="0" y="0" width="45" height="317"/></clipPath><text x="41.00" y="321.30" font-size="11" text-anchor="end" fill="#000" font-family="Liberation Sans, sans-serif" clip-path="url(#c0)">0</text></svg>
</body></html>
